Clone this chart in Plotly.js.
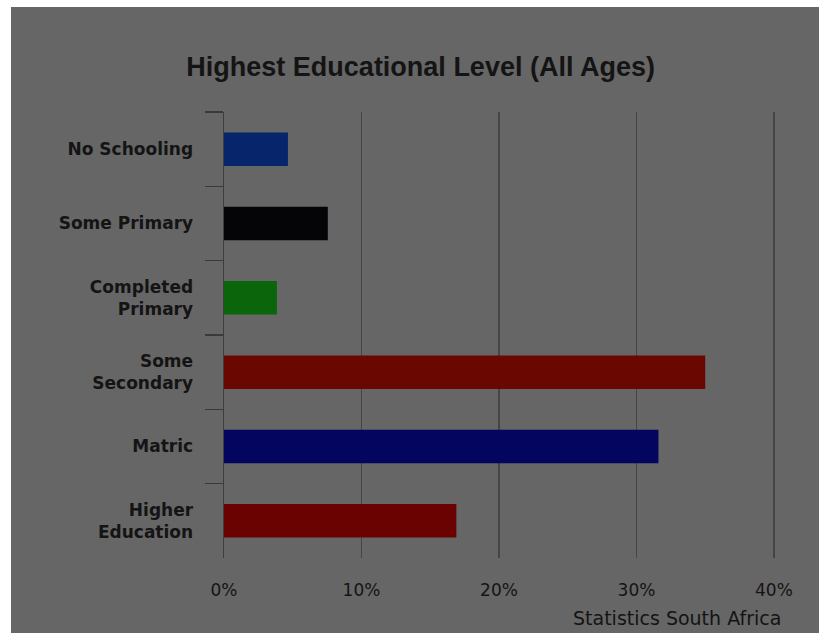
<!DOCTYPE html>
<html>
<head>
<meta charset="utf-8">
<script src="https://cdn.plot.ly/plotly-3.0.1.min.js"></script>
<style>
  html, body { margin: 0; padding: 0; background: #ffffff; width: 819px; height: 633px; overflow: hidden; }
  #chart { position: absolute; left: 11px; top: 7px; width: 808px; height: 626px; }
</style>
</head>
<body>
<div id="chart"></div>
<script>
const categories = ["No Schooling", "Some Primary", "Completed<br>Primary", "Some<br>Secondary", "Matric", "Higher<br>Education"];
const values = [4.65, 7.55, 3.85, 35.0, 31.6, 16.9];
const barColors = ["#06256a", "#050508", "#0b650b", "#6a0700", "#03055f", "#6a0202"];
const xTickVals = [0, 10, 20, 30, 40];
const xTickText = ["0%", "10%", "20%", "30%", "40%"];
const titleText = "Highest Educational Level (All Ages)";
const sourceText = "Statistics South Africa";

const trace = {
  type: "bar",
  orientation: "h",
  y: categories,
  x: values,
  marker: { color: barColors, line: { width: 0 } },
  hoverinfo: "none"
};

const layout = {
  width: 808,
  height: 626,
  paper_bgcolor: "#666666",
  plot_bgcolor: "#666666",
  margin: { l: 213, r: 43, t: 105, b: 75 },
  showlegend: false,
  bargap: 0.55,
  title: {
    text: titleText,
    font: { family: "'Liberation Sans Narrow', 'Arial Narrow', 'Liberation Sans', sans-serif", size: 27, color: "#141414", weight: "bold" },
    x: 0.507, xref: "container", xanchor: "center",
    y: 0.905, yref: "container", yanchor: "middle"
  },
  xaxis: {
    range: [0, 40.15],
    tickvals: xTickVals,
    ticktext: xTickText,
    showgrid: true,
    gridcolor: "#454545",
    gridwidth: 1.5,
    zeroline: false,
    showline: false,
    ticks: "",
    ticklabelstandoff: 20,
    tickfont: { family: "'DejaVu Sans', sans-serif", size: 17, color: "#141414" },
    fixedrange: true
  },
  yaxis: {
    type: "category",
    autorange: "reversed",
    tickson: "boundaries",
    ticks: "outside",
    ticklen: 18,
    tickwidth: 1.5,
    tickcolor: "#3a3a3a",
    showline: true,
    linecolor: "#3e3e3e",
    linewidth: 1.5,
    showgrid: false,
    zeroline: false,
    ticklabelstandoff: 26,
    tickfont: { family: "'DejaVu Sans', sans-serif", size: 17, color: "#141414", weight: "bold" },
    fixedrange: true
  },
  annotations: [{
    text: sourceText,
    xref: "paper", yref: "paper",
    x: 0.82, y: -0.135,
    xanchor: "center", yanchor: "middle",
    showarrow: false,
    font: { family: "'DejaVu Sans', sans-serif", size: 19, color: "#141414" }
  }]
};

Plotly.newPlot("chart", [trace], layout, { displayModeBar: false, staticPlot: true });
</script>
</body>
</html>
